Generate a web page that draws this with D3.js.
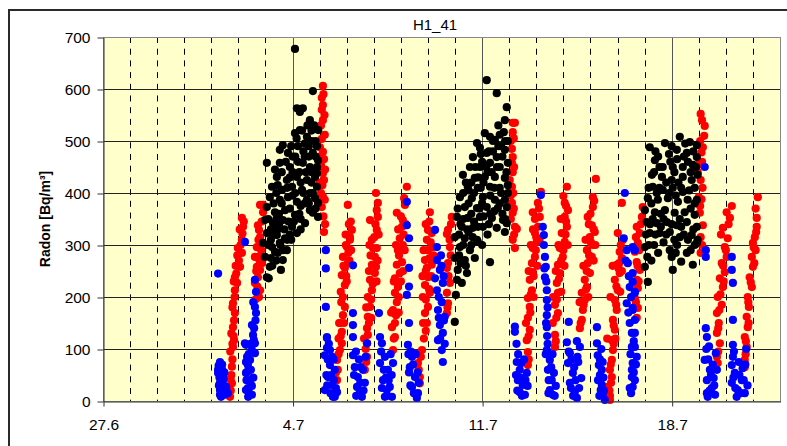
<!DOCTYPE html>
<html>
<head>
<meta charset="utf-8">
<script src="https://cdn.jsdelivr.net/npm/d3@7"></script>
<style>
    body { margin: 0; background: #fff; }
    svg { display: block; font-family: 'Liberation Sans', Arial, sans-serif; }
</style>
</head>
<body>
<div id="root"></div>
<script>
const title = 'H1_41';
const yLabel = 'Radon [Bq/m³]';
const yTicks = [0, 100, 200, 300, 400, 500, 600, 700];
const xTickDays = [0, 7, 14, 21];
const xTickLabels = ['27.6', '4.7', '11.7', '18.7'];
const dayCount = 25;

// [days since 27.6, Bq/m3]
const redPoints = [
    [4.69, 8], [4.66, 15], [4.72, 20], [4.76, 34], [4.72, 40], [4.74, 50], [4.76, 66], [4.78, 80], [4.80, 104],
    [4.84, 117], [4.82, 125], [4.80, 142], [4.84, 155], [4.87, 169], [4.80, 188], [4.86, 200], [4.87, 213],
    [4.95, 227], [4.87, 238], [4.92, 245], [5.06, 258], [5.02, 270], [5.13, 285], [4.98, 294], [5.08, 300],
    [5.13, 310], [5.15, 322], [5.17, 335], [5.20, 345], [5.13, 352],
    [4.70, 95], [4.74, 130], [4.78, 180], [4.83, 230], [4.90, 260], [4.96, 280], [5.05, 330], [4.78, 110],
    [5.65, 196], [5.76, 200], [5.80, 213], [5.61, 227], [5.72, 238], [5.80, 252], [5.68, 258], [5.87, 265],
    [5.72, 277], [5.61, 277], [5.68, 296], [5.87, 304], [5.80, 315], [5.76, 329], [5.72, 338], [5.91, 363],
    [5.80, 377], [5.91, 377], [5.70, 220], [5.78, 270], [5.84, 290], [5.74, 310], [5.86, 345], [5.66, 250],
    [8.12, 606], [8.08, 583], [8.12, 569], [8.08, 560], [8.12, 540], [8.05, 530], [8.19, 512], [8.08, 504],
    [8.01, 488], [8.12, 479], [8.16, 465], [8.05, 454], [8.12, 438], [8.16, 425], [8.10, 415], [8.05, 400],
    [8.12, 393], [8.19, 387], [8.08, 373], [8.16, 325],
    [8.14, 590], [8.18, 550], [8.02, 470], [8.20, 445], [8.00, 420], [8.14, 355], [8.20, 340],
    [8.64, 40], [8.60, 55], [8.67, 60], [8.64, 79], [8.75, 98], [8.82, 111], [8.82, 133], [8.75, 150],
    [8.86, 165], [8.93, 181], [8.86, 200], [8.93, 223], [8.82, 242], [8.93, 256], [9.04, 265], [8.86, 277],
    [9.01, 296], [8.97, 300], [9.12, 310], [9.12, 315], [9.19, 329], [9.04, 377],
    [8.70, 90], [8.78, 125], [8.90, 150], [8.80, 190], [8.98, 240], [8.88, 260], [9.06, 285], [9.15, 345],
    [9.08, 340], [8.72, 150], [9.00, 230], [8.78, 210], [9.10, 270], [8.70, 120], [8.96, 320], [9.16, 290],
    [9.67, 60], [9.75, 85], [9.75, 111], [9.78, 127], [9.75, 140], [9.78, 162], [9.86, 181], [9.78, 200],
    [9.93, 213], [9.86, 233], [10.04, 246], [10.08, 258], [9.93, 262], [10.04, 277], [9.97, 294], [10.11, 294],
    [9.93, 310], [10.11, 329], [9.86, 348], [10.15, 354], [10.11, 367], [10.15, 381], [10.08, 400],
    [9.70, 100], [9.82, 150], [9.90, 195], [9.96, 225], [9.88, 280], [10.02, 315], [10.06, 340], [9.72, 75],
    [9.64, 120], [9.90, 160], [9.72, 180], [10.10, 230], [9.82, 250], [10.14, 270], [9.84, 300], [10.18, 320],
    [10.71, 98], [10.78, 123], [10.67, 142], [10.78, 150], [10.71, 175], [10.85, 190], [10.78, 208],
    [10.89, 219], [10.78, 236], [10.96, 246], [10.85, 262], [11.04, 267], [10.89, 290], [11.07, 300],
    [10.96, 313], [11.04, 335], [11.07, 348], [10.85, 362], [11.15, 377], [11.22, 412],
    [10.74, 120], [10.82, 165], [10.92, 200], [11.00, 230], [10.93, 280], [11.10, 320], [11.00, 355],
    [11.12, 390], [10.64, 170], [10.92, 170], [10.74, 230], [11.08, 250], [10.82, 300], [11.14, 290],
    [10.90, 330], [11.18, 340],
    [11.70, 34], [11.70, 46], [11.63, 73], [11.78, 98], [11.85, 120], [11.92, 135], [11.96, 150], [11.89, 169],
    [12.00, 181], [11.81, 200], [12.07, 208], [11.89, 223], [12.00, 238], [11.96, 256], [12.14, 262],
    [11.89, 271], [12.00, 290], [12.18, 296], [11.96, 310], [12.14, 323], [12.00, 329], [12.07, 363],
    [11.66, 60], [11.74, 85], [11.92, 195], [12.04, 215], [12.06, 275], [11.92, 250], [12.10, 305],
    [12.05, 345], [11.60, 90], [11.82, 150], [11.80, 240], [12.12, 240], [11.84, 290], [12.20, 280],
    [11.92, 340],
    [12.70, 169], [12.74, 188], [12.70, 208], [12.81, 227], [12.70, 256], [12.74, 265], [12.81, 296],
    [12.70, 321], [12.74, 329], [12.88, 354], [12.76, 240], [12.84, 280], [12.80, 310], [12.85, 340],
    [12.72, 180],
    [15.13, 535], [15.21, 535], [15.13, 517], [15.06, 500], [15.10, 485], [15.13, 469], [15.10, 458],
    [15.13, 440], [15.02, 425], [15.10, 412], [15.06, 395], [15.10, 381], [15.13, 362], [15.06, 350],
    [15.21, 335], [15.28, 331], [15.13, 310], [15.21, 294],
    [15.17, 505], [15.18, 450], [15.15, 400], [15.17, 370], [15.18, 320],
    [15.69, 69], [15.69, 94], [15.65, 117], [15.76, 137], [15.69, 160], [15.76, 181], [15.69, 198],
    [15.84, 213], [15.76, 233], [15.87, 248], [15.84, 265], [15.95, 277], [15.87, 294], [16.02, 306],
    [15.95, 323], [16.06, 335], [16.13, 354], [15.87, 363], [16.06, 381], [16.17, 402],
    [15.72, 80], [15.72, 125], [15.78, 170], [15.80, 205], [15.90, 240], [15.98, 290], [16.00, 315],
    [15.95, 350], [16.10, 370], [15.62, 150], [15.90, 200], [15.72, 250], [16.04, 260], [15.80, 300],
    [16.12, 310], [15.88, 330],
    [16.69, 104], [16.69, 127], [16.61, 150], [16.80, 169], [16.69, 185], [16.80, 208], [16.76, 227],
    [16.87, 246], [16.80, 262], [16.98, 277], [16.87, 294], [17.05, 306], [16.94, 323], [17.13, 335],
    [17.05, 354], [17.17, 367], [17.05, 381], [17.00, 394], [17.13, 412],
    [16.72, 115], [16.74, 160], [16.76, 195], [16.84, 235], [16.92, 270], [17.00, 290], [17.08, 320],
    [17.10, 345], [17.10, 375], [16.62, 200], [16.92, 210], [16.72, 250], [17.04, 260], [16.82, 300],
    [17.16, 300], [16.90, 350],
    [17.61, 140], [17.68, 156], [17.72, 175], [17.79, 194], [17.68, 208], [17.87, 219], [17.79, 233],
    [17.98, 246], [17.90, 265], [18.05, 277], [17.87, 290], [18.09, 300], [17.98, 315], [18.16, 325],
    [18.05, 338], [17.90, 354], [18.09, 373], [18.09, 392], [18.20, 427],
    [17.64, 150], [17.75, 185], [17.84, 215], [17.86, 250], [17.95, 280], [18.02, 305], [18.12, 330],
    [18.00, 360], [18.14, 385], [17.60, 190], [17.92, 200], [17.74, 260], [18.12, 270], [17.82, 310],
    [18.18, 300], [17.94, 340],
    [18.72, 2], [18.72, 10], [18.64, 27], [18.79, 46], [18.72, 60], [18.79, 79], [18.83, 98], [18.79, 117],
    [18.90, 137], [18.83, 156], [18.97, 175], [18.90, 194], [19.01, 213], [18.90, 233], [19.08, 246],
    [18.97, 262], [19.16, 275], [19.08, 287], [19.01, 323], [19.16, 381],
    [18.70, 20], [18.76, 35], [18.75, 70], [18.86, 110], [18.86, 145], [18.95, 185], [18.96, 220],
    [19.04, 255], [19.12, 300], [19.06, 265], [18.62, 120], [18.92, 120], [18.74, 200], [19.10, 210],
    [18.82, 260], [19.16, 250], [19.20, 310],
    [19.71, 160], [19.75, 179], [19.64, 198], [19.60, 198], [19.75, 217], [19.71, 233], [19.82, 252],
    [19.71, 267], [19.64, 287], [19.75, 304], [19.82, 323], [19.71, 335], [19.90, 354], [19.93, 373],
    [19.68, 190], [19.78, 230], [19.74, 260], [19.80, 290], [19.86, 340], [19.68, 315],
    [22.07, 552], [22.22, 529], [22.20, 510], [22.15, 488], [22.10, 478], [22.12, 460], [21.96, 440],
    [22.07, 425], [22.00, 392], [22.10, 388], [22.04, 362], [22.15, 338], [22.07, 315], [22.07, 285],
    [22.12, 540], [22.05, 500], [22.00, 455], [22.14, 410], [22.05, 375], [22.12, 300],
    [22.70, 73], [22.67, 85], [22.78, 111], [22.67, 131], [22.74, 150], [22.67, 169], [22.85, 185],
    [22.70, 200], [22.89, 219], [22.78, 236], [22.96, 248], [22.85, 265], [23.03, 277], [22.96, 296],
    [23.07, 313], [22.89, 333], [23.15, 352], [23.03, 363], [23.22, 375],
    [22.72, 95], [22.72, 140], [22.76, 175], [22.80, 205], [22.92, 230], [22.90, 260], [23.00, 290],
    [23.10, 340], [22.82, 320],
    [23.70, 65], [23.70, 79], [23.77, 104], [23.70, 123], [23.81, 142], [23.77, 162], [23.85, 181],
    [23.81, 200], [23.96, 219], [23.88, 238], [24.00, 258], [23.96, 277], [24.10, 290], [24.00, 304],
    [24.07, 315], [24.14, 335], [24.14, 352], [24.18, 392],
    [23.73, 90], [23.74, 115], [23.84, 150], [23.83, 190], [23.92, 228], [24.05, 265], [24.03, 295],
    [24.12, 325], [24.10, 370],
];

const bluePoints = [
    [4.25, 245],
    [4.32, 75], [4.25, 60], [4.36, 65], [4.36, 50], [4.25, 54], [4.32, 35], [4.43, 40], [4.43, 21],
    [4.32, 21], [4.32, 12], [4.40, 60], [4.46, 44], [4.50, 12], [4.55, 27], [4.61, 15],
    [4.28, 30], [4.38, 15], [4.30, 45], [4.40, 70], [4.48, 55], [4.36, 8], [4.27, 68], [4.45, 30],
    [5.24, 306], [5.61, 233], [5.65, 210], [5.61, 181], [5.65, 169], [5.50, 146], [5.54, 127], [5.57, 117],
    [5.24, 111], [5.28, 108], [5.61, 111], [5.50, 98], [5.61, 92], [5.32, 85], [5.43, 79], [5.28, 75],
    [5.35, 69], [5.32, 56], [5.28, 54], [5.43, 40], [5.50, 29], [5.35, 25], [5.28, 21], [5.50, 12],
    [5.30, 40], [5.38, 90], [5.46, 60], [5.40, 15], [5.55, 45], [5.58, 140], [5.63, 155], [5.55, 190],
    [5.45, 110], [5.36, 8],
    [8.23, 290], [8.23, 255], [8.23, 181], [8.27, 123], [8.27, 121], [8.27, 102], [8.38, 98], [8.19, 88],
    [8.52, 80], [8.38, 69], [8.56, 60], [8.31, 46], [8.45, 31], [8.19, 21], [8.64, 17], [8.49, 8],
    [8.25, 50], [8.30, 80], [8.34, 110], [8.42, 50], [8.46, 85], [8.53, 40], [8.60, 25], [8.28, 30],
    [8.40, 15], [8.56, 8],
    [9.23, 261], [9.23, 169], [9.23, 146], [9.23, 123],
    [9.75, 111], [9.23, 88], [9.45, 80], [9.30, 65], [9.60, 60], [9.41, 46], [9.67, 35], [9.38, 27], [9.56, 8],
    [9.27, 50], [9.34, 95], [9.50, 35], [9.48, 15], [9.62, 20], [9.52, 65], [9.70, 85], [9.35, 10],
    [10.19, 169],
    [10.23, 123], [10.30, 111], [10.41, 85], [10.23, 73], [10.71, 73], [10.52, 60], [10.34, 40], [10.59, 27],
    [10.48, 21], [10.41, 8], [10.67, 8],
    [10.27, 95], [10.37, 60], [10.45, 45], [10.55, 40], [10.62, 90], [10.30, 25], [10.50, 10], [10.66, 50],
    [11.22, 383], [11.22, 338], [11.30, 313], [11.30, 256], [11.30, 220], [11.22, 204], [11.30, 150],
    [11.26, 108], [11.37, 95], [11.41, 85], [11.33, 65], [11.52, 46], [11.66, 35], [11.41, 27], [11.63, 15],
    [11.59, 6], [11.30, 55], [11.45, 70], [11.48, 15], [11.55, 90], [11.35, 30], [11.62, 55], [11.28, 90],
    [12.26, 329], [12.33, 296], [12.33, 271], [12.44, 252], [12.26, 236], [12.55, 227], [12.33, 213],
    [12.51, 190], [12.37, 175], [12.62, 162], [12.59, 155], [12.44, 146], [12.55, 131], [12.37, 117],
    [12.51, 98], [12.55, 75], [12.40, 200], [12.48, 280], [12.58, 240], [12.45, 120], [12.62, 110],
    [12.40, 160], [12.50, 260],
    [15.21, 143], [15.21, 133], [15.28, 75], [15.45, 73], [15.39, 60], [15.65, 54], [15.32, 40], [15.50, 31],
    [15.68, 29], [15.39, 17], [15.58, 12],
    [15.25, 50], [15.33, 90], [15.42, 45], [15.55, 80], [15.30, 20], [15.47, 10], [15.60, 40], [15.27, 110],
    [16.17, 396], [16.24, 335], [16.28, 319], [16.32, 277], [16.35, 258], [16.32, 238], [16.39, 213],
    [16.39, 194], [16.39, 165], [16.39, 142], [16.28, 300], [16.30, 255], [16.37, 230], [16.42, 180],
    [16.36, 150],
    [16.39, 98], [16.35, 90], [16.50, 79], [16.43, 60], [16.65, 54], [16.57, 40], [16.72, 29], [16.50, 21],
    [16.61, 12], [16.42, 110], [16.46, 40], [16.55, 65], [16.60, 90], [16.45, 15], [16.68, 10], [16.40, 125],
    [17.20, 152],
    [17.13, 113], [17.61, 104], [17.24, 92], [17.55, 75], [17.17, 73], [17.40, 65], [17.35, 54], [17.66, 44],
    [17.24, 35], [17.42, 17], [17.50, 6],
    [17.20, 95], [17.30, 80], [17.28, 25], [17.45, 40], [17.52, 85], [17.36, 10], [17.58, 25], [17.50, 115],
    [18.24, 142], [18.24, 111],
    [18.27, 88], [18.31, 69], [18.42, 60], [18.35, 50], [18.42, 31], [18.38, 21], [18.46, 15], [18.53, 2],
    [18.28, 40], [18.35, 80], [18.40, 100], [18.48, 45], [18.50, 20], [18.33, 10], [18.45, 75],
    [19.27, 400], [19.23, 313], [19.56, 296], [19.64, 290], [19.34, 290], [19.38, 265], [19.56, 246],
    [19.56, 229], [19.45, 219], [19.64, 210], [19.64, 208], [19.34, 188], [19.56, 179], [19.56, 175],
    [19.64, 156], [19.45, 150], [19.64, 131], [19.53, 131], [19.53, 104], [19.64, 104], [19.71, 85],
    [19.56, 73], [19.53, 60], [19.53, 46], [19.64, 40], [19.56, 27], [19.45, 25],
    [19.30, 270], [19.42, 240], [19.50, 200], [19.40, 170], [19.60, 115], [19.48, 90], [19.60, 55],
    [19.50, 15], [19.68, 70],
    [22.22, 450], [22.26, 290], [22.26, 277],
    [22.26, 140], [22.30, 123], [22.63, 92], [22.22, 79], [22.41, 60], [22.67, 60], [22.55, 44], [22.30, 40],
    [22.48, 25], [22.60, 12], [22.33, 8],
    [22.28, 100], [22.35, 80], [22.40, 20], [22.45, 50], [22.52, 70], [22.38, 105], [22.57, 30], [22.30, 15],
    [23.22, 277], [23.22, 252], [23.26, 227], [23.26, 156], [23.26, 108], [23.75, 100], [23.26, 85],
    [23.22, 69], [23.62, 63], [23.33, 54], [23.59, 40], [23.22, 35], [23.80, 30], [23.44, 21], [23.70, 15],
    [23.40, 8], [23.28, 45], [23.35, 25], [23.50, 50], [23.55, 15], [23.66, 40], [23.30, 95], [23.72, 70],
    [23.48, 75],
];

const blackPoints = [
    [7.09, 677], [7.75, 596], [7.16, 563], [7.27, 556], [7.38, 563], [7.64, 540], [7.80, 530], [7.95, 521],
    [7.27, 521], [7.09, 515], [7.53, 508], [7.85, 500], [7.70, 500], [7.45, 495], [6.64, 492], [7.20, 490],
    [6.53, 483], [6.83, 477], [7.75, 477], [7.00, 470], [7.10, 470], [7.45, 470], [7.60, 470], [7.94, 463],
    [6.05, 458], [6.53, 458], [7.38, 458], [6.90, 450], [7.64, 450], [6.35, 445], [7.25, 440], [7.90, 438],
    [6.42, 431], [7.16, 431], [7.83, 431], [6.90, 430], [6.79, 425], [7.53, 425], [7.70, 420], [6.24, 412],
    [6.98, 412], [7.90, 412], [6.61, 406], [7.35, 406], [6.40, 400], [7.75, 400], [7.00, 395], [6.16, 392],
    [6.83, 392], [7.83, 390], [6.53, 387], [7.53, 387], [7.16, 383], [7.94, 381], [7.30, 375], [6.05, 373],
    [6.72, 367], [7.64, 367], [6.35, 363], [7.75, 362], [6.50, 360], [7.09, 358], [7.94, 354], [7.30, 350],
    [5.98, 348], [6.64, 348], [6.85, 345], [6.28, 342], [7.46, 342], [6.98, 335], [6.20, 330], [6.45, 330],
    [7.30, 330], [6.05, 323], [7.16, 323], [6.90, 320], [6.42, 319], [6.72, 313], [5.91, 304], [6.53, 304],
    [6.10, 300], [6.24, 296], [6.79, 290], [6.35, 287], [5.98, 277], [6.20, 275], [6.64, 271], [6.40, 270],
    [6.16, 258], [6.57, 252], [6.05, 238], [6.12, 236],
    [6.10, 350], [6.30, 380], [6.45, 415], [6.60, 440], [6.75, 460], [6.95, 490], [7.15, 505], [7.35, 520],
    [7.55, 530], [7.70, 520], [7.90, 490], [6.20, 310], [6.40, 350], [6.60, 380], [6.80, 410], [7.00, 440],
    [7.20, 460], [7.40, 480], [7.60, 490], [7.85, 470], [6.30, 320], [6.50, 340], [6.70, 330], [6.90, 370],
    [7.10, 400], [7.30, 420], [7.50, 440], [7.70, 440], [7.90, 450], [6.55, 300], [6.80, 310], [7.05, 345],
    [7.25, 360], [7.45, 380], [7.65, 400], [7.85, 370], [6.25, 260], [6.45, 285], [6.65, 290], [7.40, 400],
    [7.60, 380], [6.95, 310],
    [14.17, 617], [14.54, 592], [14.91, 565], [14.84, 540], [14.60, 530], [14.80, 517], [14.10, 515],
    [14.65, 512], [14.29, 508], [14.47, 502], [14.95, 500], [13.81, 496], [14.70, 490], [13.92, 487],
    [14.84, 483], [14.40, 480], [14.17, 477], [13.66, 469], [14.54, 469], [14.00, 460], [14.29, 458],
    [14.95, 458], [13.55, 450], [13.92, 450], [14.65, 450], [14.20, 440], [13.29, 435], [14.10, 431],
    [14.47, 431], [13.73, 429], [14.84, 429], [13.60, 420], [14.95, 415], [13.47, 412], [14.29, 412],
    [13.84, 410], [14.65, 410], [14.70, 400], [14.30, 395], [13.18, 392], [14.03, 392], [13.62, 390],
    [14.47, 387], [14.84, 387], [13.36, 373], [14.17, 373], [14.91, 373], [13.81, 371], [14.58, 371],
    [13.90, 370], [14.30, 360], [14.75, 360], [13.07, 354], [13.92, 354], [13.47, 352], [14.36, 352],
    [13.30, 350], [14.77, 348], [13.70, 345], [14.91, 342], [13.25, 335], [14.03, 335], [13.66, 333],
    [14.54, 333], [13.50, 325], [14.84, 325], [13.15, 320], [14.20, 320], [12.99, 315], [13.36, 313],
    [13.81, 310], [13.84, 306], [14.00, 300], [13.60, 300], [13.18, 296], [13.55, 290], [12.99, 275],
    [13.73, 275], [13.36, 271], [14.29, 267], [13.10, 252], [13.44, 246], [13.07, 233], [13.25, 227],
    [13.03, 204], [12.99, 152],
    [13.10, 370], [13.20, 340], [13.30, 400], [13.40, 420], [13.50, 380], [13.60, 360], [13.70, 400],
    [13.75, 450], [13.85, 430], [13.95, 410], [14.05, 420], [14.15, 450], [14.25, 480], [14.35, 440],
    [14.45, 410], [14.55, 450], [14.60, 490], [14.75, 470], [14.85, 500], [14.90, 440], [14.95, 400],
    [13.15, 280], [13.30, 300], [13.45, 330], [13.65, 315], [13.85, 335], [14.05, 355], [14.25, 340],
    [14.45, 365], [14.65, 380], [14.85, 350], [14.00, 380], [14.40, 500], [13.95, 475], [13.50, 405],
    [13.20, 265], [13.40, 260],
    [21.30, 508], [21.67, 498], [20.75, 496], [21.50, 495], [21.93, 492], [20.19, 488], [21.19, 483],
    [21.56, 477], [20.90, 475], [20.50, 470], [21.93, 469], [21.20, 465], [20.38, 463], [21.78, 454],
    [20.67, 450], [21.04, 450], [21.41, 450], [21.70, 440], [20.27, 435], [21.96, 435], [20.64, 431],
    [21.41, 431], [21.00, 425], [21.74, 425], [21.25, 420], [20.30, 412], [20.55, 410], [21.04, 410],
    [21.85, 410], [20.67, 406], [21.41, 402], [20.12, 390], [20.86, 390], [20.49, 387], [21.59, 387],
    [21.93, 387], [21.23, 383], [21.70, 370], [20.01, 367], [20.75, 367], [20.38, 363], [21.48, 363],
    [21.11, 362], [21.85, 358], [20.30, 350], [20.70, 350], [21.30, 350], [20.08, 344], [20.82, 344],
    [21.56, 344], [20.45, 342], [21.19, 338], [21.93, 335], [21.80, 330], [20.93, 325], [20.19, 323],
    [20.56, 323], [21.45, 320], [21.74, 319], [21.30, 315], [21.96, 310], [20.70, 305], [21.93, 304],
    [20.35, 300], [21.20, 300], [20.01, 296], [20.93, 290], [20.50, 285], [21.56, 285], [21.00, 277],
    [20.10, 277], [21.35, 268], [21.78, 262], [20.01, 258], [21.04, 252], [20.12, 229],
    [20.05, 320], [20.15, 410], [20.25, 380], [20.35, 440], [20.45, 400], [20.55, 450], [20.60, 360],
    [20.80, 420], [20.95, 460], [21.10, 440], [21.15, 395], [21.35, 410], [21.45, 470], [21.60, 460],
    [21.65, 405], [21.80, 480], [21.90, 450], [21.85, 380], [20.20, 340], [20.40, 320], [20.60, 335],
    [20.80, 320], [21.00, 340], [21.10, 310], [21.35, 335], [21.60, 310], [21.85, 300], [20.25, 270],
    [20.15, 300], [21.15, 285], [21.70, 290], [20.90, 400], [20.40, 480], [21.00, 490],
];

const width = 787;
const height = 446;
const plot = {
    left: 103, right: 780, top: 37, bottom: 401,
};
const dotRadius = 4.1;

const x = d3.scaleLinear().domain([0, dayCount]).range([plot.left, plot.right]);
const y = d3.scaleLinear().domain([0, 700]).range([plot.bottom, plot.top]);
const crisp = v => Math.round(v) + 0.5;

const svg = d3.select('#root')
    .append('svg')
    .attr('width', width)
    .attr('height', height)
    .attr('viewBox', [0, 0, width, height]);

svg.append('rect')
    .attr('width', width)
    .attr('height', height)
    .attr('fill', '#fff');

// chart frame
svg.append('rect')
    .attr('x', 9)
    .attr('y', 10)
    .attr('width', 900)
    .attr('height', 600)
    .attr('fill', 'none')
    .attr('stroke', '#2a2a2a')
    .attr('stroke-width', 2);

svg.append('rect')
    .attr('x', plot.left)
    .attr('y', plot.top)
    .attr('width', plot.right - plot.left)
    .attr('height', plot.bottom - plot.top)
    .attr('fill', '#ffffcc');

// vertical day lines: dashed for each day, solid on the week ticks
const days = d3.range(1, dayCount);
svg.append('g')
    .selectAll('line')
    .data(days)
    .join('line')
    .attr('x1', d => crisp(x(d)))
    .attr('x2', d => crisp(x(d)))
    .attr('y1', plot.top)
    .attr('y2', plot.bottom)
    .attr('stroke', d => (xTickDays.includes(d) ? '#555' : '#000'))
    .attr('stroke-width', 1)
    .attr('stroke-dasharray', d => (xTickDays.includes(d) ? null : '6,5.7'));

svg.append('g')
    .selectAll('line')
    .data(yTicks.filter(t => t > 0 && t < 700))
    .join('line')
    .attr('x1', plot.left)
    .attr('x2', plot.right)
    .attr('y1', d => crisp(y(d)))
    .attr('y2', d => crisp(y(d)))
    .attr('stroke', '#222')
    .attr('stroke-width', 1);

svg.append('rect')
    .attr('x', crisp(plot.left))
    .attr('y', crisp(plot.top))
    .attr('width', Math.round(plot.right - plot.left))
    .attr('height', Math.round(plot.bottom - plot.top))
    .attr('fill', 'none')
    .attr('stroke', '#888');

const series = [
    { name: 'red', color: '#ff0000', points: redPoints },
    { name: 'black', color: '#000000', points: blackPoints },
    { name: 'blue', color: '#0000ff', points: bluePoints },
];

series.forEach(s => {
    svg.append('g')
        .attr('class', `series-${s.name}`)
        .selectAll('circle')
        .data(s.points)
        .join('circle')
        .attr('cx', d => x(d[0]))
        .attr('cy', d => y(d[1]))
        .attr('r', dotRadius)
        .attr('fill', s.color);
});

const yAxis = svg.append('g')
    .attr('transform', `translate(${crisp(plot.left)},0.5)`)
    .call(d3.axisLeft(y)
        .tickValues(yTicks)
        .tickSize(6)
        .tickSizeOuter(0)
        .tickPadding(7)
        .tickFormat(d3.format('d')));

const xAxis = svg.append('g')
    .attr('transform', `translate(0.5,${crisp(plot.bottom)})`)
    .call(d3.axisBottom(x)
        .tickValues(xTickDays)
        .tickSize(5)
        .tickSizeOuter(0)
        .tickPadding(12)
        .tickFormat((d, idx) => xTickLabels[idx]));

[yAxis, xAxis].forEach(a => {
    a.select('.domain').attr('stroke', '#333');
    a.selectAll('.tick line').attr('stroke', '#333');
    a.selectAll('.tick text')
        .attr('fill', '#000')
        .style('font-size', '15.5px')
        .style('font-family', "'Liberation Sans', Arial, sans-serif");
});

svg.append('text')
    .attr('x', 435)
    .attr('y', 30)
    .attr('text-anchor', 'middle')
    .style('font-size', '15px')
    .text(title);

svg.append('text')
    .attr('transform', `translate(50,${(plot.top + plot.bottom) / 2}) rotate(-90)`)
    .attr('text-anchor', 'middle')
    .style('font-size', '14px')
    .style('font-weight', 'bold')
    .text(yLabel);
</script>
</body>
</html>
